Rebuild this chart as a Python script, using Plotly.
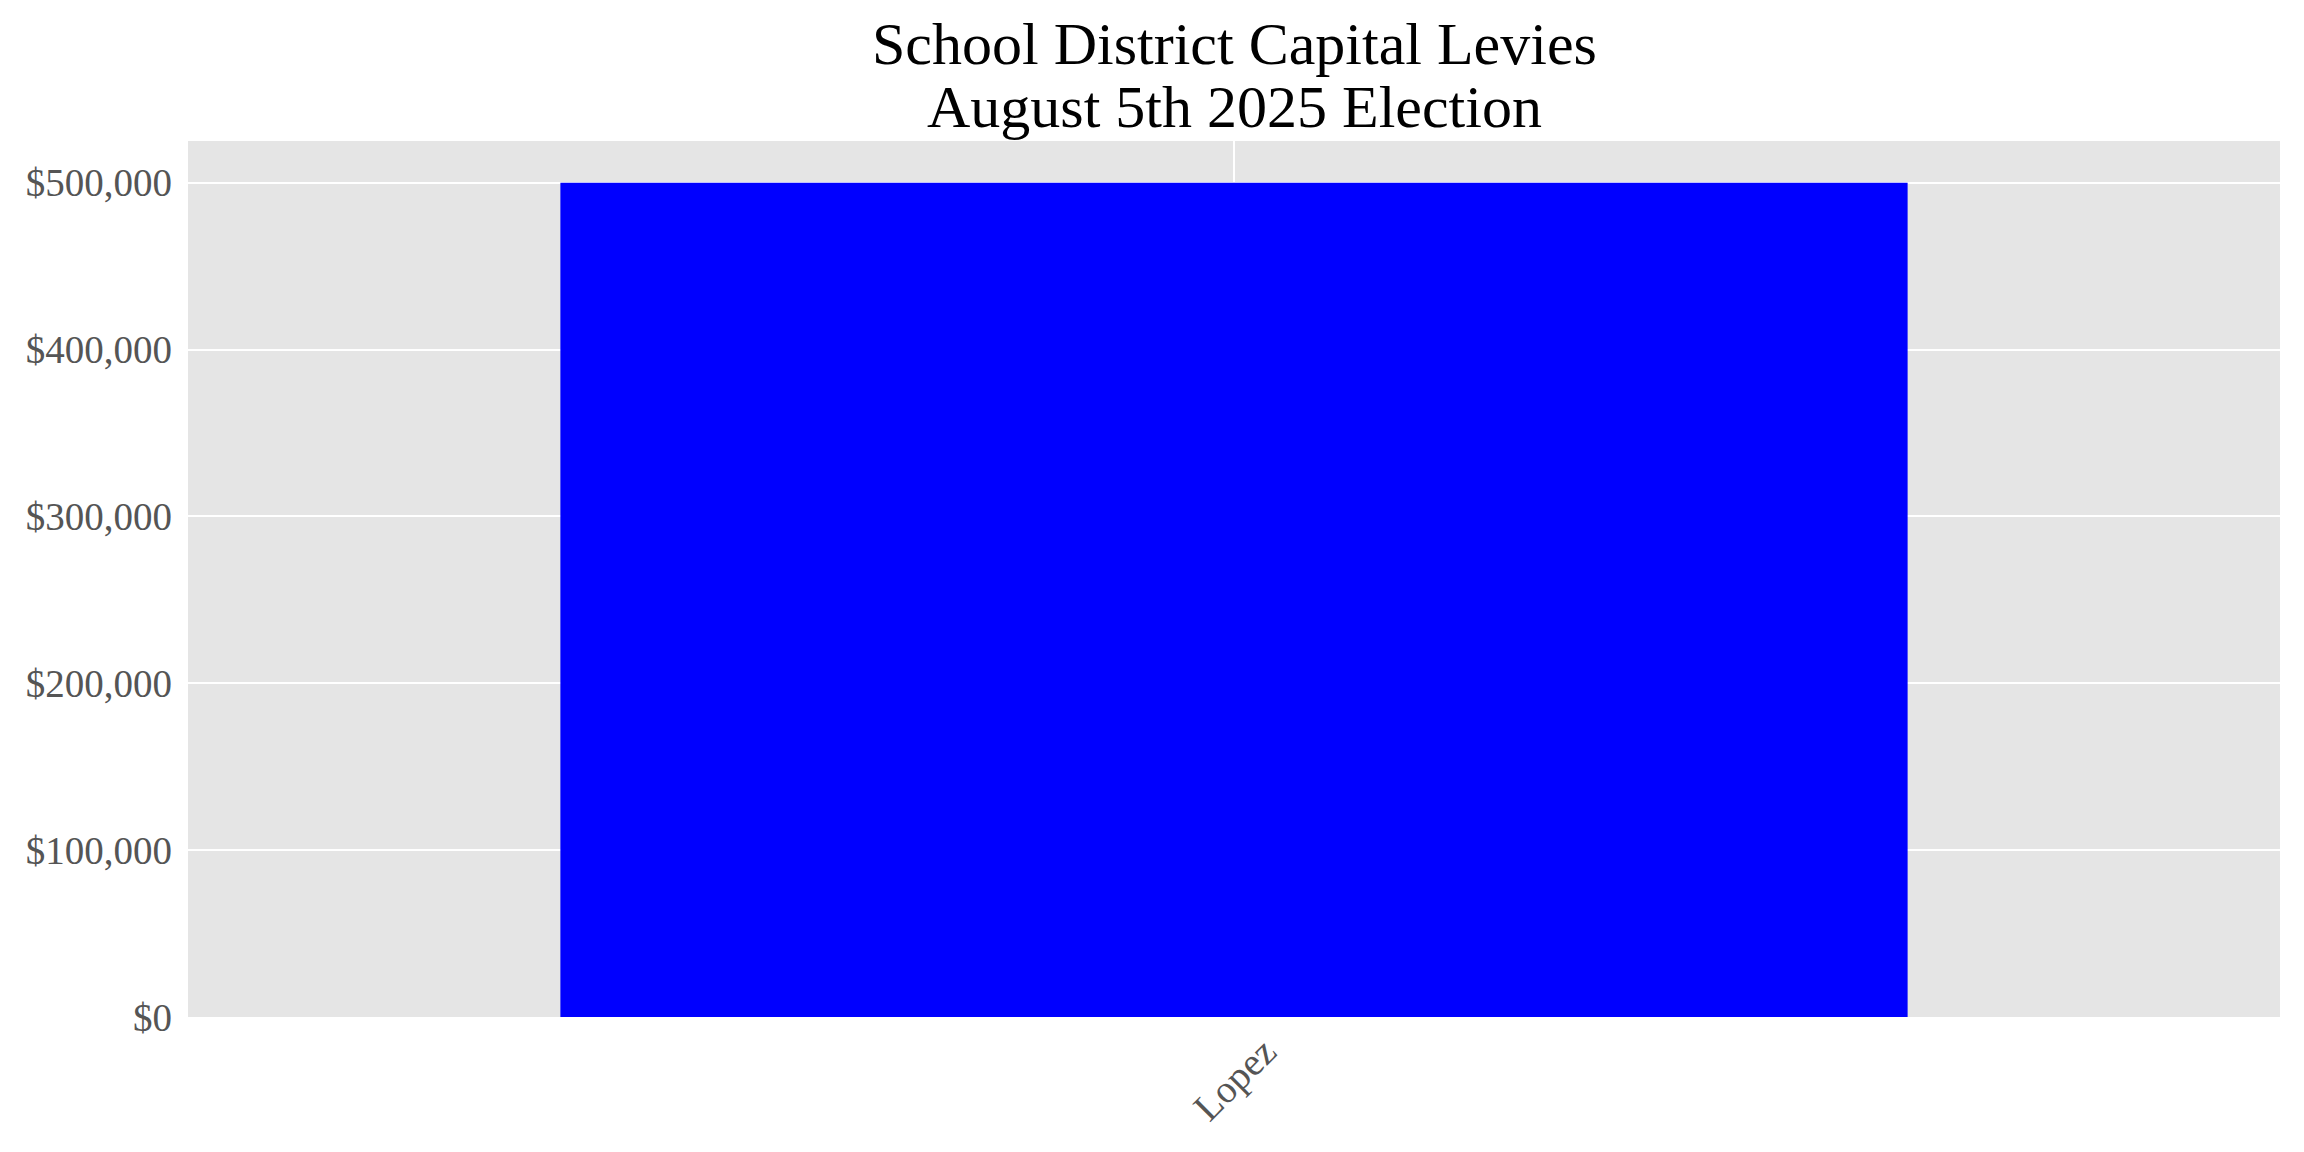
import plotly.graph_objects as go

# data
districts = ['Lopez']
levy_amounts = [500000]
title_lines = ['School District Capital Levies', 'August 5th 2025 Election']

serif = 'Liberation Serif, Times New Roman, serif'

fig = go.Figure(go.Bar(x=districts, y=levy_amounts, marker_color='#0000FF',
                       marker_line_width=0, width=0.644))

# two-line title as annotations so line spacing can match the reference
fig.add_annotation(text=title_lines[0], xref='paper', yref='paper', x=0.5, y=1.111,
                   xanchor='center', yanchor='middle', showarrow=False,
                   font=dict(family=serif, size=60, color='black'))
fig.add_annotation(text=title_lines[1], xref='paper', yref='paper', x=0.5, y=1.039,
                   xanchor='center', yanchor='middle', showarrow=False,
                   font=dict(family=serif, size=60, color='black'))

# category labels centred under their tick, rotated 45 degrees
for d in districts:
    fig.add_annotation(text=d, xref='x', yref='paper', x=d, y=0, yshift=-10,
                       xanchor='center', yanchor='top', textangle=-45, showarrow=False,
                       font=dict(family=serif, size=39, color='#555555'))

fig.update_layout(
    width=2304, height=1152,
    margin=dict(l=180, r=32, t=133, b=143),
    paper_bgcolor='white',
    plot_bgcolor='#E5E5E5',
    showlegend=False,
    font=dict(family=serif, size=39, color='#555555'),
)
fig.update_xaxes(range=[-0.5, 0.5], showticklabels=False, showgrid=True,
                 gridcolor='white', gridwidth=2, ticks='', zeroline=False)
fig.update_yaxes(range=[0, 525000], dtick=100000, tickprefix='$', tickformat=',',
                 showgrid=True, gridcolor='white', gridwidth=2, zeroline=False,
                 ticks='', ticklabelstandoff=15)

fig.write_html("out.html")
